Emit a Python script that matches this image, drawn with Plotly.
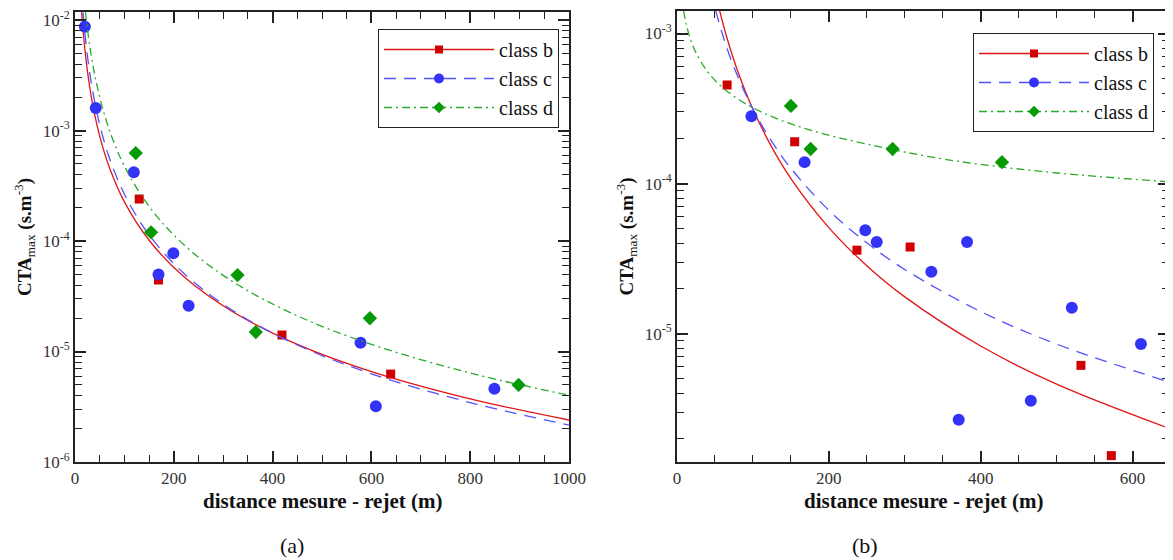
import plotly.graph_objects as go

# ---------------- Panel (a): measured points ----------------
a_b_x = [130, 169, 419, 639]
a_b_y = [2.4e-4, 4.44e-5, 1.41e-5, 6.25e-6]
a_c_x = [20, 42, 119, 169, 199, 230, 578, 609, 849]
a_c_y = [8.7e-3, 1.6e-3, 4.19e-4, 4.98e-5, 7.74e-5, 2.6e-5, 1.2e-5, 3.19e-6, 4.6e-6]
a_d_x = [123, 154, 329, 366, 597, 898]
a_d_y = [6.25e-4, 1.2e-4, 4.92e-5, 1.5e-5, 2.0e-5, 4.98e-6]

# Panel (a): fitted curves
a_fit_b_x = [13.5, 16, 20, 25, 30, 35, 45, 55, 70, 100, 150, 220, 320, 450, 600, 800, 1000]
a_fit_b_y = [1.18e-2, 8.45e-3, 5.44e-3, 3.50e-3, 2.44e-3, 1.80e-3, 1.096e-3, 7.38e-4, 4.58e-4,
             2.26e-4, 1.016e-4, 4.77e-5, 2.28e-5, 1.16e-5, 6.58e-6, 3.73e-6, 2.40e-6]
a_fit_c_x = [16.3, 20, 25, 30, 35, 45, 55, 70, 100, 150, 220, 320, 450, 600, 800, 1000]
a_fit_c_y = [1.175e-2, 7.66e-3, 4.81e-3, 3.28e-3, 2.38e-3, 1.406e-3, 9.26e-4, 5.59e-4, 2.655e-4,
             1.138e-4, 5.11e-5, 2.34e-5, 1.146e-5, 6.29e-6, 3.45e-6, 2.16e-6]
a_fit_d_x = [21.3, 25, 30, 40, 55, 75, 100, 150, 220, 320, 450, 600, 800, 1000]
a_fit_d_y = [1.178e-2, 8.45e-3, 5.79e-3, 3.19e-3, 1.648e-3, 8.66e-4, 4.77e-4, 2.056e-4, 9.29e-5,
             4.27e-5, 2.106e-5, 1.16e-5, 6.39e-6, 4.02e-6]

# ---------------- Panel (b): measured points ----------------
b_b_x = [66, 155, 237, 307, 532, 572]
b_b_y = [4.54e-4, 1.9e-4, 3.6e-5, 3.78e-5, 6.15e-6, 1.54e-6]
b_c_x = [98, 168, 248, 263, 335, 371, 382, 466, 520, 611]
b_c_y = [2.81e-4, 1.39e-4, 4.89e-5, 4.08e-5, 2.59e-5, 2.67e-6, 4.08e-5, 3.57e-6, 1.49e-5, 8.53e-6]
b_d_x = [150, 176, 284, 428]
b_d_y = [3.29e-4, 1.70e-4, 1.70e-4, 1.39e-4]

# Panel (b): fitted curves
b_fit_b_x = [56, 65, 80, 100, 125, 150, 200, 250, 300, 400, 500, 650]
b_fit_b_y = [1.429e-3, 9.67e-4, 5.61e-4, 3.13e-4, 1.743e-4, 1.081e-4, 5.09e-5, 2.836e-5,
             1.759e-5, 8.28e-6, 4.61e-6, 2.32e-6]
b_fit_c_x = [50.8, 60, 75, 100, 125, 150, 200, 250, 300, 400, 500, 650]
b_fit_c_y = [1.429e-3, 9.84e-4, 5.97e-4, 3.135e-4, 1.902e-4, 1.264e-4, 6.64e-5, 4.03e-5,
             2.676e-5, 1.404e-5, 8.52e-6, 4.73e-6]
b_fit_d_x = [8.7, 12, 18, 25, 40, 60, 90, 130, 180, 250, 350, 480, 650]
b_fit_d_y = [1.413e-3, 1.161e-3, 9.08e-4, 7.44e-4, 5.59e-4, 4.37e-4, 3.41e-4, 2.729e-4,
             2.239e-4, 1.834e-4, 1.460e-4, 1.205e-4, 1.026e-4]

series_names = ["class b", "class c", "class d"]
x_title = "<b>distance mesure - rejet (m)</b>"
y_title = "<b>CTA</b><sub>max</sub><b> (s.m</b><sup>-3</sup><b>)</b>"

RED_M, RED_L = "#d00000", "#e01515"
BLUE_M, BLUE_L = "#3333f8", "#5252ff"
GREEN_M, GREEN_L = "#079a07", "#2aaa2a"
FONT = "Liberation Serif"

styles = [
    dict(mc=RED_M, lc=RED_L, sym="square", ms=9, dash="solid"),
    dict(mc=BLUE_M, lc=BLUE_L, sym="circle", ms=12, dash="12px,8px"),
    dict(mc=GREEN_M, lc=GREEN_L, sym="diamond", ms=11, dash="8px,4px,2px,4px"),
]

fig = go.Figure()

panels = [
    ("x", "y", "legend",
     [(a_fit_b_x, a_fit_b_y), (a_fit_c_x, a_fit_c_y), (a_fit_d_x, a_fit_d_y)],
     [(a_b_x, a_b_y), (a_c_x, a_c_y), (a_d_x, a_d_y)]),
    ("x2", "y2", "legend2",
     [(b_fit_b_x, b_fit_b_y), (b_fit_c_x, b_fit_c_y), (b_fit_d_x, b_fit_d_y)],
     [(b_b_x, b_b_y), (b_c_x, b_c_y), (b_d_x, b_d_y)]),
]

for xa, ya, leg, fits, pts in panels:
    for i, st in enumerate(styles):
        fx, fy = fits[i]
        fig.add_trace(go.Scatter(
            x=fx, y=fy, mode="lines", xaxis=xa, yaxis=ya, showlegend=False,
            line=dict(color=st["lc"], width=1.3, dash=st["dash"], shape="spline"),
            hoverinfo="skip"))
        px_, py_ = pts[i]
        fig.add_trace(go.Scatter(
            x=px_, y=py_, mode="markers", xaxis=xa, yaxis=ya, showlegend=False,
            marker=dict(color=st["mc"], symbol=st["sym"], size=st["ms"], line=dict(width=0))))
        fig.add_trace(go.Scatter(
            x=[None], y=[None], mode="lines+markers", xaxis=xa, yaxis=ya,
            name=series_names[i], legend=leg,
            line=dict(color=st["lc"], width=1.3, dash=st["dash"]),
            marker=dict(color=st["mc"], symbol=st["sym"], size=max(st["ms"] - 2, 8))))

AXCOL = "#222222"
TICKFONT = dict(family=FONT, size=17, color="#333333")

# the page body has an 8px margin: place everything in figure coords = reference - 8
OFF = 8
W, H = 1165, 552

def fx_(px):
    return (px - OFF) / W

def fy_(py):
    return 1 - (py - OFF) / H

def xaxis_style(domain, rng, anchor):
    return dict(
        domain=domain, range=rng, anchor=anchor, automargin=False,
        showline=True, linecolor=AXCOL, linewidth=2, mirror="ticks",
        ticks="inside", ticklen=11, tickwidth=1.5, tickcolor=AXCOL,
        dtick=200, tick0=0, ticklabeloverflow="allow",
        minor=dict(ticks="inside", ticklen=7, tickwidth=1.2, tickcolor=AXCOL, dtick=50),
        showgrid=False, zeroline=False, tickfont=TICKFONT,
    )

def log_ticks(e_lo, e_hi):
    vals = [10.0 ** e for e in range(e_lo, e_hi + 1)]
    texts = ["10<sup>%d</sup>" % e for e in range(e_lo, e_hi + 1)]
    minor = [m * 10.0 ** e for e in range(e_lo - 1, e_hi + 1) for m in range(2, 10)]
    return vals, texts, minor

def yaxis_style(domain, rng, anchor, e_lo, e_hi):
    vals, texts, minor = log_ticks(e_lo, e_hi)
    return dict(
        domain=domain, range=rng, anchor=anchor, type="log", automargin=False,
        showline=True, linecolor=AXCOL, linewidth=2, mirror="ticks",
        ticks="inside", ticklen=11, tickwidth=1.5, tickcolor=AXCOL,
        tickmode="array", tickvals=vals, ticktext=texts, ticklabeloverflow="allow",
        minor=dict(ticks="inside", ticklen=7, tickwidth=1.2, tickcolor=AXCOL,
                   tickmode="array", tickvals=minor),
        showgrid=False, zeroline=False, tickfont=TICKFONT,
        title=dict(text=y_title, font=dict(family=FONT, size=19, color="#111"), standoff=6),
    )

def paper_text(text, px, py, size):
    return dict(text=text, x=fx_(px), y=fy_(py), xref="paper", yref="paper",
                xanchor="center", yanchor="middle", showarrow=False,
                font=dict(family=FONT, size=size, color="#111"))

fig.update_layout(
    width=W, height=H,
    margin=dict(l=0, r=0, t=0, b=0, autoexpand=False),
    paper_bgcolor="white", plot_bgcolor="white",
    font=dict(family=FONT, color="#222"),
    xaxis=xaxis_style([fx_(75), fx_(569)], [0, 1000], "y"),
    yaxis=yaxis_style([fy_(462), fy_(12)], [-6, -1.927], "x", -6, -2),
    xaxis2=xaxis_style([fx_(677), fx_(1169)], [0, 648], "y2"),
    yaxis2=yaxis_style([fy_(462), fy_(11)], [-5.855, -2.85], "x2", -5, -3),
    legend=dict(x=fx_(559), y=fy_(29), xanchor="right", yanchor="top",
                bordercolor="#222", borderwidth=1, bgcolor="white",
                font=dict(family=FONT, size=20, color="#111"), itemwidth=110,
                tracegroupgap=0),
    legend2=dict(x=fx_(1154), y=fy_(33), xanchor="right", yanchor="top",
                 bordercolor="#222", borderwidth=1, bgcolor="white",
                 font=dict(family=FONT, size=20, color="#111"), itemwidth=110,
                 tracegroupgap=0),
    annotations=[
        paper_text(x_title, 322, 501, 21),
        paper_text(x_title, 923, 501, 21),
        paper_text("(a)", 292, 545, 22),
        paper_text("(b)", 865, 545, 22),
    ],
)

fig.write_html("out.html")
